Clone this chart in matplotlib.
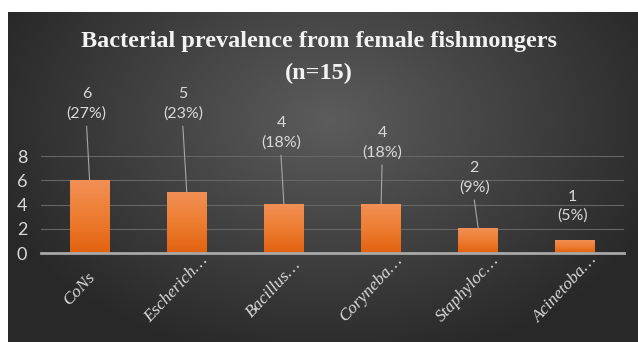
import numpy as np
import matplotlib
matplotlib.use('Agg')
import matplotlib.pyplot as plt
import matplotlib.transforms as mtransforms
from matplotlib.colors import LinearSegmentedColormap

# chart data
categories = ['CoNs', 'Escherich…', 'Bacillus…', 'Coryneba…', 'Staphyloc…', 'Acinetoba…']
counts = [6, 5, 4, 4, 2, 1]
percents = [27, 23, 18, 18, 9, 5]

# where Excel dropped the data labels (y in data units, centre of the 2-line label)
label_y = [12.3, 12.3, 9.9, 9.1, 6.2, 3.85]
label_dx = [-0.03, -0.04, -0.03, 0.01, -0.04, -0.03]

W, H = 638, 342
fig = plt.figure(figsize=(W / 100, H / 100), dpi=100)
fig.patch.set_facecolor('white')

# dark radial-gradient panel
bg = fig.add_axes([8 / W, 0, 1 - 8 / W, (H - 12) / H])
bg.set_axis_off()
xx, yy = np.meshgrid(np.linspace(8, W, 400), np.linspace(12, H, 240))
r = np.sqrt(((xx - 330) / 360) ** 2 + ((yy - 120) / 250) ** 2)
r = np.clip(r, 0, 1)
c_in = np.array([0x5c, 0x5c, 0x5c]) / 255
c_out = np.array([0x28, 0x28, 0x28]) / 255
img = c_in[None, None, :] * (1 - r[..., None]) + c_out[None, None, :] * r[..., None]
bg.imshow(img, aspect='auto', extent=[0, 1, 0, 1], origin='upper')
bg.set_xlim(0, 1)
bg.set_ylim(0, 1)

ax = fig.add_axes([41 / W, 1 - 253 / H, (624 - 41) / W, (253 - 156) / H])
ax.patch.set_alpha(0)

x = np.arange(len(categories))
bars = ax.bar(x, counts, width=0.41, color='#ED7D31', zorder=3)

# orange vertical gradient inside each bar
orange = LinearSegmentedColormap.from_list('org', ['#F28F55', '#ED7D31', '#E2620F'])
grad = np.linspace(0, 1, 100).reshape(-1, 1)
for b in bars:
    x0, w, h = b.get_x(), b.get_width(), b.get_height()
    b.set_facecolor('none')
    ax.imshow(grad, cmap=orange, aspect='auto', extent=[x0, x0 + w, 0, h],
              origin='upper', zorder=3)

ax.set_xlim(-0.5, len(categories) - 0.5)
ax.set_ylim(0, 8)
ax.set_yticks([0, 2, 4, 6, 8])
ax.yaxis.grid(True, color='#666666', linewidth=0.8, zorder=0)
ax.set_axisbelow(True)
for s in ['top', 'right', 'left']:
    ax.spines[s].set_visible(False)
ax.spines['bottom'].set_color('#a8a8a8')
ax.spines['bottom'].set_linewidth(2)
ax.spines['bottom'].set_zorder(4)

ax.tick_params(axis='y', length=0, pad=10, labelsize=13, labelcolor='#d9d9d9')
ax.tick_params(axis='x', length=0, pad=26)
for t in ax.get_yticklabels():
    t.set_fontfamily('Lato')

# rotated category labels, centred below each bar like Excel does
ax.set_xticks(x)
ax.set_xticklabels(categories, rotation=47, ha='center', va='center', rotation_mode='anchor',
                   family='Liberation Serif', style='italic', fontsize=12.5, color='#d9d9d9')
shift = mtransforms.ScaledTranslation(-10 / 100, 0, fig.dpi_scale_trans)
for t in ax.get_xticklabels():
    t.set_transform(t.get_transform() + shift)

# data labels with leader lines
for i, (c, p) in enumerate(zip(counts, percents)):
    lx = i + label_dx[i]
    ax.text(lx, label_y[i], f'{c}\n({p}%)', ha='center', va='center', fontsize=11.5,
            family='Lato', color='#d9d9d9', linespacing=1.45, clip_on=False, zorder=5)
    bottom = label_y[i] - 1.85
    if bottom - c > 1.5:
        ax.plot([lx, i], [bottom, c], color='#a6a6a6', linewidth=0.8, clip_on=False, zorder=2)

fig.text(0.5, 1 - 42 / H, 'Bacterial prevalence from female fishmongers', ha='center', va='center',
         family='Liberation Serif', weight='bold', fontsize=17.5, color='#f2f2f2')
fig.text(0.5, 1 - 73 / H, '(n=15)', ha='center', va='center',
         family='Liberation Serif', weight='bold', fontsize=17.5, color='#f2f2f2')

fig.savefig('out.png', dpi=100, facecolor=fig.get_facecolor())
